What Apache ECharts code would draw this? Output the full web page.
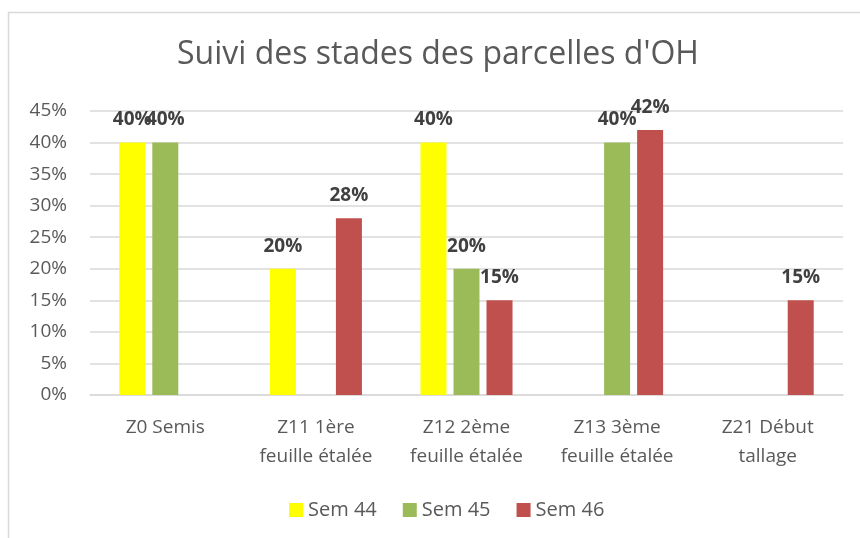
<!DOCTYPE html>
<html>
<head>
<meta charset="utf-8">
<script src="https://cdn.jsdelivr.net/npm/echarts@6/dist/echarts.min.js"></script>
<style>
  html, body { margin: 0; padding: 0; background: #fff; }
  #chart { width: 860px; height: 538px; }
</style>
</head>
<body>
<div id="chart"></div>
<script>
const categories = [
  'Z0 Semis',
  'Z11 1ère\nfeuille étalée',
  'Z12 2ème\nfeuille étalée',
  'Z13 3ème\nfeuille étalée',
  'Z21 Début\ntallage'
]
// '-' = pas de valeur (pas de barre ni d'étiquette)
const sem44 = [40, 20, 40, '-', '-']
const sem45 = [40, '-', 20, 40, '-']
const sem46 = ['-', 28, 15, 42, 15]
const yTicks = [0, 5, 10, 15, 20, 25, 30, 35, 40, 45]

const textColor = '#595959'
const font = '"Open Sans", Lato, sans-serif'

const makeSeries = (name, data, color) => ({
  name,
  type: 'bar',
  data,
  barWidth: 26,
  barGap: '27%',
  itemStyle: { color },
  label: {
    show: true,
    position: 'top',
    distance: 13,
    formatter: p => p.value + '%',
    fontFamily: font,
    fontSize: 19,
    fontWeight: 'bold',
    color: '#404040'
  }
})

const chart = echarts.init(document.getElementById('chart'))
chart.setOption({
  backgroundColor: '#fff',
  animation: false,
  graphic: [{
    type: 'rect',
    shape: { x: 8.5, y: 12.5, width: 900, height: 600 },
    style: { fill: 'none', stroke: '#d9d9d9', lineWidth: 1.5 },
    silent: true
  }],
  title: {
    text: "Suivi des stades des parcelles d'OH",
    left: 177,
    top: 39,
    padding: 0,
    textStyle: {
      fontFamily: font,
      fontSize: 32,
      fontWeight: 'normal',
      color: textColor
    }
  },
  legend: {
    bottom: 13,
    left: 284,
    itemWidth: 14,
    itemHeight: 14,
    itemGap: 26,
    icon: 'rect',
    textStyle: { fontFamily: font, fontSize: 20, color: textColor }
  },
  grid: {
    left: 90,
    right: 17,
    top: 111,
    bottom: 143
  },
  xAxis: {
    type: 'category',
    data: categories,
    axisLine: { lineStyle: { color: '#d9d9d9', width: 1.5 } },
    axisTick: { show: false },
    axisLabel: {
      fontFamily: font,
      fontSize: 19,
      color: textColor,
      lineHeight: 29,
      margin: 18
    }
  },
  yAxis: {
    type: 'value',
    min: 0,
    max: 45,
    interval: 5,
    axisLine: { show: false },
    axisTick: { show: false },
    splitLine: { lineStyle: { color: '#d9d9d9', width: 1.5 } },
    axisLabel: {
      fontFamily: font,
      fontSize: 19,
      color: textColor,
      margin: 23,
      formatter: v => yTicks.includes(v) ? v + '%' : ''
    }
  },
  series: [
    makeSeries('Sem 44', sem44, '#ffff00'),
    makeSeries('Sem 45', sem45, '#9bbb59'),
    makeSeries('Sem 46', sem46, '#c0504d')
  ]
})
</script>
</body>
</html>
